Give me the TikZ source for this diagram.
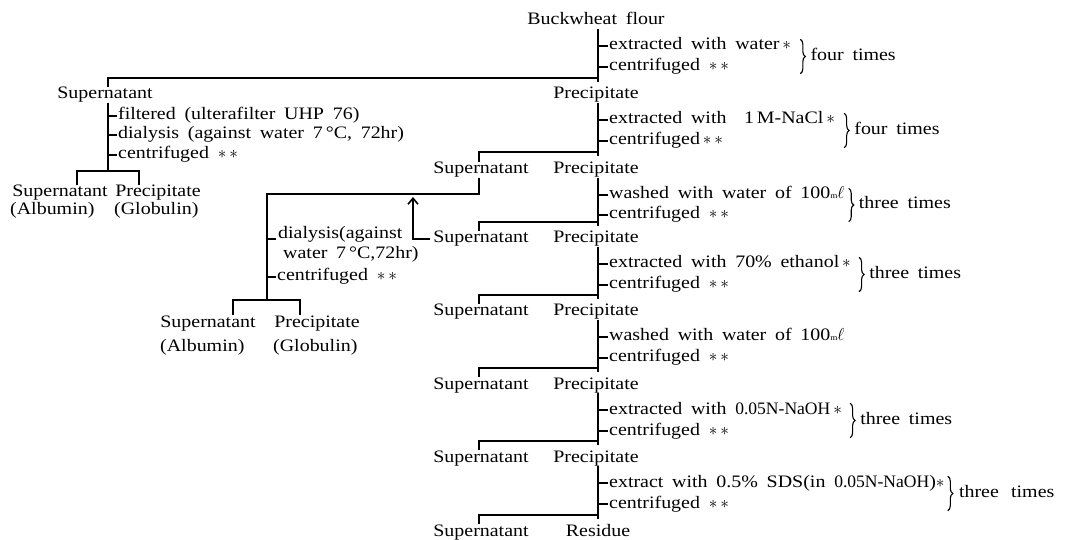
\documentclass[tikz,border=0pt]{standalone}
\usepackage{fontspec}
\setmainfont[FakeStretch=1.14]{Liberation Serif}
\usetikzlibrary{decorations.pathreplacing,arrows.meta,calc}
\newcommand\myfs{\fontsize{17.5}{20}\selectfont\spaceskip=0.5em plus 0.1em\relax}
\newcommand\onestar{\,$\ast$}
\newcommand\twostar{$\ast\,\ast$}
\newcommand\mlunit{{\footnotesize m}$\ell$}
\newcommand\degc{°C}
\newcommand\naoh{\scalebox{0.88}[1]{0.05N-NaOH}}
\begin{document}
\begin{tikzpicture}[x=1pt,y=-1pt,
  txt/.style={inner sep=0pt,text height=11.5pt,text depth=3.5pt,font=\myfs},
  ln/.style={line width=1.6pt},
  brc/.style={decorate,decoration={brace,amplitude=5pt},line width=1.1pt},
  arr/.style={line width=1.6pt,-{Straight Barb[length=6pt,width=10pt]}}]
\fill[white] (0,0) rectangle (1080,540);
\useasboundingbox (0,0) rectangle (1080,540);

% ---------- main column ----------
\node[txt] (bw) at (596,21) {Buckwheat flour};
\node[txt] (p1) at (596,95) {Precipitate};
\node[txt] (p2) at (596,170) {Precipitate};
\node[txt] (p3) at (596,239) {Precipitate};
\node[txt] (p4) at (596,312) {Precipitate};
\node[txt] (p5) at (596,385) {Precipitate};
\node[txt] (p6) at (596,458) {Precipitate};
\node[txt] (res) at (598,532) {Residue};

\coordinate (j1) at (598,78);
\coordinate (j2) at (598,152);
\coordinate (j3) at (598,222);
\coordinate (j4) at (598,295);
\coordinate (j5) at (598,368);
\coordinate (j6) at (598,441);
\coordinate (j7) at (598,515);

\draw[ln] (bw.south -| j1) -- ([yshift=-4pt]j1);
\draw[ln] (p1.south -| j2) -- ([yshift=-4pt]j2);
\draw[ln] (p2.south -| j3) -- ([yshift=-4pt]j3);
\draw[ln] (p3.south -| j4) -- ([yshift=-4pt]j4);
\draw[ln] (p4.south -| j5) -- ([yshift=-4pt]j5);
\draw[ln] (p5.south -| j6) -- ([yshift=-4pt]j6);
\draw[ln] (p6.south -| j7) -- ([yshift=-4pt]j7);

% ---------- steps ----------
\node[txt,anchor=west] (a1) at (609,46) {extracted with water\onestar};
\node[txt,anchor=west] (b1) at (609,67) {centrifuged \twostar};
\node[txt,anchor=west] (a2) at (609,120) {extracted with \ 1\,M-NaCl\onestar};
\node[txt,anchor=west] (b2) at (609,141) {centrifuged\,\twostar};
\node[txt,anchor=west] (a3) at (609,195) {washed with water of 100\mlunit};
\node[txt,anchor=west] (b3) at (609,215) {centrifuged \twostar};
\node[txt,anchor=west] (a4) at (609,264) {extracted with 70\% ethanol\onestar};
\node[txt,anchor=west] (b4) at (609,285) {centrifuged \twostar};
\node[txt,anchor=west] (a5) at (609,337) {washed with water of 100\mlunit};
\node[txt,anchor=west] (b5) at (609,358) {centrifuged \twostar};
\node[txt,anchor=west] (a6) at (609,410) {extracted with \naoh\onestar};
\node[txt,anchor=west] (b6) at (609,431) {centrifuged \twostar};
\node[txt,anchor=west] (a7) at (609,483) {extract with 0.5\% SDS(in \naoh)$\ast$};
\node[txt,anchor=west] (b7) at (609,504) {centrifuged \twostar};

\foreach \k in {1,...,7}{
  \draw[ln] (a\k.west -| j\k) -- ([xshift=-1pt]a\k.west);
  \draw[ln] (b\k.west -| j\k) -- ([xshift=-1pt]b\k.west);
}

% braces
\draw[brc] ($(a1.north east)+(9,1)$) -- ($(a1.east |- b1.south)+(9,-1)$);
\node[txt,anchor=west] (t1) at ($(a1.east)!0.5!(a1.east |- b1.east)+(19,0)$) {four times};
\draw[brc] ($(a2.north east)+(9,1)$) -- ($(a2.east |- b2.south)+(9,-1)$);
\node[txt,anchor=west] (t2) at ($(a2.east)!0.5!(a2.east |- b2.east)+(19,0)$) {four times};
\draw[brc] ($(a3.north east)+(4,1)$) -- ($(a3.east |- b3.south)+(4,-1)$);
\node[txt,anchor=west] (t3) at ($(a3.east)!0.5!(a3.east |- b3.east)+(14,0)$) {three times};
\draw[brc] ($(a4.north east)+(8,1)$) -- ($(a4.east |- b4.south)+(8,-1)$);
\node[txt,anchor=west] (t4) at ($(a4.east)!0.5!(a4.east |- b4.east)+(18,0)$) {three times};
\draw[brc] ($(a6.north east)+(8,1)$) -- ($(a6.east |- b6.south)+(8,-1)$);
\node[txt,anchor=west] (t6) at ($(a6.east)!0.5!(a6.east |- b6.east)+(18,0)$) {three times};
\draw[brc] ($(a7.north east)+(3,1)$) -- ($(a7.east |- b7.south)+(3,-1)$);
\node[txt,anchor=west] (t7) at ($(a7.east)!0.5!(a7.east |- b7.east)+(14,0)$) {three\hspace{0.7em}times};

% ---------- supernatants (right column) ----------
\node[txt] (s2) at (481,170) {Supernatant};
\node[txt] (s3) at (481,239) {Supernatant};
\node[txt] (s4) at (481,312) {Supernatant};
\node[txt] (s5) at (481,385) {Supernatant};
\node[txt] (s6) at (481,458) {Supernatant};
\node[txt] (s7) at (481,532) {Supernatant};

% ---------- left tree ----------
\node[txt] (sup0) at (105,95) {Supernatant};
\draw[ln] (j1) -| ([xshift=3pt]sup0.north);
\foreach \k in {2,...,7}{
  \draw[ln] (j\k) -| ([xshift=-2pt]s\k.north);
}
\coordinate (lj) at (108,171);
\draw[ln] ([xshift=3pt]sup0.south) -- (lj);
\node[txt,anchor=west] (f1) at (118,116) {filtered (ulterafilter UHP 76)};
\node[txt,anchor=west] (f2) at (118,135) {dialysis (against water 7\,\degc, 72hr)};
\node[txt,anchor=west] (f3) at (118,155) {centrifuged \twostar};
\draw[ln] (f1.west -| lj) -- ([xshift=-1pt]f1.west);
\draw[ln] (f2.west -| lj) -- ([xshift=-1pt]f2.west);
\draw[ln] (f3.west -| lj) -- ([xshift=-1pt]f3.west);
\node[txt] (l1) at (60,193) {Supernatant};
\node[txt] (l2) at (158,193) {Precipitate};
\draw[ln] ([xshift=17pt]l1.north) |- (lj) -| ([xshift=-19pt]l2.north);
\node[txt,anchor=west] (l3) at (10,211) {(Albumin)};
\node[txt,anchor=west] (l4) at (114,211) {(Globulin)};

% ---------- middle tree ----------
\coordinate (dj) at (267,194);
\coordinate (dk) at (267,300);
\draw[ln] ([xshift=-2pt]s2.south) |- (dj) -- (dk);
\node[txt,anchor=west] (d1) at (278,235) {dialysis(against};
\node[txt,anchor=west] (d2) at (283,255) {water 7\,\degc,72hr)};
\node[txt,anchor=west] (d3) at (277,277) {centrifuged \twostar};
\draw[ln] ([yshift=-4pt]d1.west -| dj) -- ([xshift=-2pt,yshift=-4pt]d1.west);
\draw[ln] (d3.west -| dj) -- ([xshift=-1pt]d3.west);
\node[txt] (m1) at (208,323) {Supernatant};
\node[txt] (m2) at (317,323) {Precipitate};
\draw[ln] ([xshift=25pt]m1.north) |- (dk) -| ([xshift=-17pt]m2.north);
\node[txt,anchor=west] (m3) at (160,348) {(Albumin)};
\node[txt,anchor=west] (m4) at (273,348) {(Globulin)};

% ---------- arrow ----------
\coordinate (atip) at (413,197);
\draw[arr] ([xshift=-3pt]s3.west) -| (atip);
\end{tikzpicture}
\end{document}
